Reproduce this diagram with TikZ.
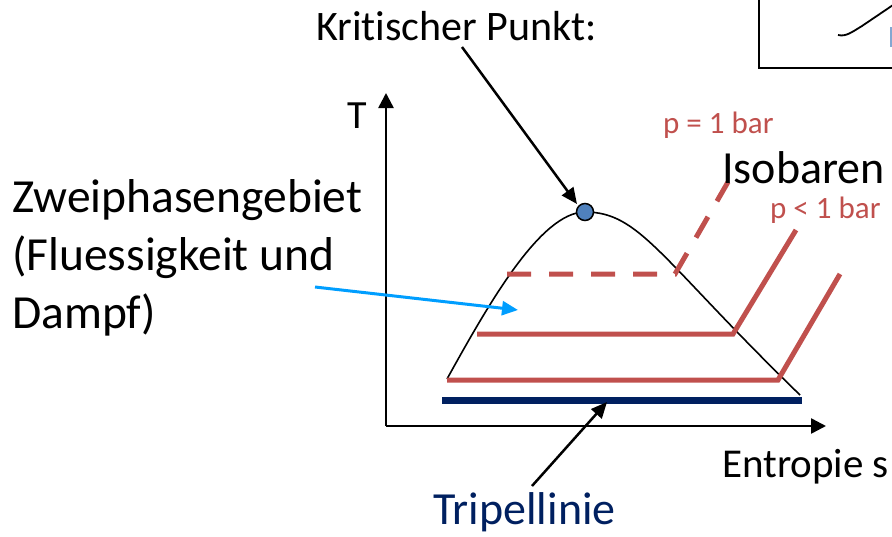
\documentclass[tikz,border=0pt]{standalone}
\usepackage{fontspec}
\setmainfont{Carlito}[Ligatures=CommonOff]
\usetikzlibrary{arrows.meta}
\definecolor{redline}{RGB}{192,80,77}
\definecolor{navy}{RGB}{0,32,96}
\definecolor{cpblue}{RGB}{79,129,189}
\definecolor{skyarrow}{RGB}{0,158,255}
\tikzset{
  axis/.style={line width=2.5pt,-{Triangle[length=15pt,width=15pt]}},
  pointer/.style={line width=2.5pt,-{Triangle[length=16pt,width=14pt]}},
  isobar/.style={line width=5pt,redline},
  lbl/.style={inner sep=0pt,anchor=base west},
}
\begin{document}
\begin{tikzpicture}[x=1pt,y=-1pt]
\useasboundingbox (0,0) rectangle (892,536);
% top-right partial box
\draw[line width=2pt] (759,-5) -- (759,68) -- (900,68);
\draw[line width=1.8pt] (838,35) .. controls (846,37) and (852,32) .. (862,26) -- (896,3);
\draw[line width=1.5pt,cpblue!70] (891,27) -- (891,47);
% axes
\coordinate (O) at (386,426);
\coordinate (Ytip) at (386,93);
\coordinate (Xtip) at (826,426);
\draw[axis] (O) -- (Ytip);
\draw[axis] (O) -- (Xtip);
% dome
\coordinate (L) at (447,379);
\coordinate (C) at (585,212);
\coordinate (R) at (800,395);
\draw[line width=1.6pt] (L) .. controls (487,307) and (540,212) .. (C)
  .. controls (640,212) and (660,259) .. (R);
% isobars
\draw[isobar,dash pattern=on 24pt off 18pt] (507,274) -- (675,274) -- (728,182);
\draw[isobar] (477,334) -- (733,334) -- (796,230);
\draw[isobar] (447,380) -- (778,380) -- (840,274);
% triple line
\draw[line width=7pt,navy] (442,400) -- (802,400);
% critical point
\node[circle,draw,line width=1.5pt,fill=cpblue,minimum size=17pt,inner sep=0pt] (cp) at (C) {};
% labels
\node[lbl,font=\fontsize{42}{50}\selectfont] (krit) at (316,40) {Kritischer Punkt:};
\node[lbl,font=\fontsize{40}{48}\selectfont] (T) at (347,128) {T};
\node[lbl,font=\fontsize{47.5}{58}\selectfont,align=left] (zwei) at (12,328) {Zweiphasengebiet\\(Fluessigkeit und\\Dampf)};
\node[lbl,font=\fontsize{31}{36}\selectfont,text=redline] (p1) at (663,133) {p = 1 bar};
\node[lbl,font=\fontsize{31}{36}\selectfont,text=redline] (p2) at (770,218) {p < 1 bar};
\node[lbl,font=\fontsize{46}{54}\selectfont] (iso) at (722,183) {Isobaren};
\node[lbl,font=\fontsize{41}{48}\selectfont] (ent) at (722,477) {Entropie s};
\node[lbl,font=\fontsize{46}{54}\selectfont,text=navy] (tri) at (433,524) {Tripellinie};
% pointers
\coordinate (kstart) at (462,47);
\coordinate (kend) at (577,204);
\draw[pointer] (kstart) -- (kend);
\coordinate (tstart) at (532,486);
\coordinate (tend) at (607,402);
\draw[pointer] (tstart) -- (tend);
\coordinate (zstart) at (315,287);
\coordinate (zend) at (518,310);
\draw[pointer,skyarrow,line width=3pt] (zstart) -- (zend);
\end{tikzpicture}
\end{document}
